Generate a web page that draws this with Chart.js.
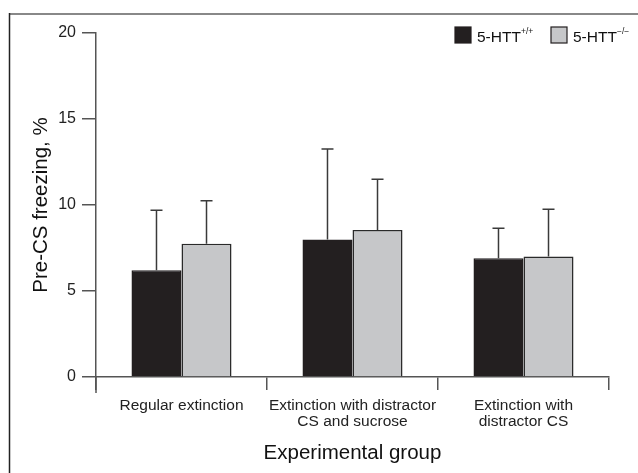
<!DOCTYPE html>
<html>
<head>
<meta charset="utf-8">
<script src="https://cdn.jsdelivr.net/npm/chart.js@4/dist/chart.umd.min.js"></script>
<style>
  html, body { margin: 0; padding: 0; background: #fff; }
  #wrap { width: 638px; height: 473px; position: relative; }
</style>
</head>
<body>
<div id="wrap"><canvas id="freezeChart"></canvas></div>
<script>
const groups = [["Regular extinction"], ["Extinction with distractor", "CS and sucrose"], ["Extinction with", "distractor CS"]];
const wildType = [6.2, 8.0, 6.9];
const wildTypeErr = [3.5, 5.25, 1.75];
const knockOut = [7.75, 8.55, 7.0];
const knockOutErr = [2.5, 2.95, 2.75];
const yTicks = [0, 5, 10, 15, 20];

const FONT = "'Liberation Sans', Arial, sans-serif";

// error bars drawn on top of the bars, upward only
const errorBars = {
    id: "errorBars",
    afterDatasetsDraw(chart) {
        const c = chart.ctx;
        const y = chart.scales.y;
        const errs = [wildTypeErr, knockOutErr];
        c.save();
        c.strokeStyle = "#3a3a3a";
        c.lineWidth = 1.5;
        chart.data.datasets.forEach((ds, i) => {
            chart.getDatasetMeta(i).data.forEach((bar, j) => {
                const top = y.getPixelForValue(ds.data[j] + errs[i][j]);
                c.beginPath();
                c.moveTo(bar.x, bar.y);
                c.lineTo(bar.x, top);
                c.moveTo(bar.x - 6, top);
                c.lineTo(bar.x + 6, top);
                c.stroke();
            });
        });
        c.restore();
    }
};

// frame, axis extension and legend with superscripts
const extras = {
    id: "extras",
    afterDraw(chart) {
        const c = chart.ctx;
        const area = chart.chartArea;
        c.save();
        c.strokeStyle = "#888";
        c.lineWidth = 2;
        c.beginPath();
        c.moveTo(9, 14); c.lineTo(638, 14);
        c.stroke();
        c.strokeStyle = "#222";
        c.lineWidth = 1.5;
        c.beginPath();
        c.moveTo(9.5, 13); c.lineTo(9.5, 473);
        c.stroke();

        c.strokeStyle = "#555";
        c.lineWidth = 1.5;
        c.beginPath();
        c.moveTo(area.left, area.bottom); c.lineTo(area.left, area.bottom + 16);
        c.stroke();

        const items = [
            { x: 455, fill: "#231f20", sup: "+/+" },
            { x: 551, fill: "#c6c7c9", sup: "\u2212/\u2212" }
        ];
        items.forEach(it => {
            c.fillStyle = it.fill;
            c.fillRect(it.x, 27, 16, 16);
            c.strokeStyle = "#231f20";
            c.lineWidth = 1.2;
            c.strokeRect(it.x, 27, 16, 16);
            c.fillStyle = "#111";
            c.font = "15.5px " + FONT;
            c.textBaseline = "alphabetic";
            c.textAlign = "left";
            c.fillText("5-HTT", it.x + 22, 42);
            const w = c.measureText("5-HTT").width;
            c.font = "8.5px " + FONT;
            c.fillText(it.sup, it.x + 22 + w, 34);
        });
        c.restore();
    }
};

const ctx = document.getElementById("freezeChart").getContext("2d");

new Chart(ctx, {
    type: "bar",
    data: {
        labels: groups,
        datasets: [{
            label: "5-HTT+/+",
            data: wildType,
            backgroundColor: "#231f20",
            borderColor: "#231f20",
            borderWidth: 1.5
        }, {
            label: "5-HTT-/-",
            data: knockOut,
            backgroundColor: "#c6c7c9",
            borderColor: "#2a2a2a",
            borderWidth: 1.5
        }]
    },
    options: {
        responsive: true,
        maintainAspectRatio: false,
        animation: false,
        devicePixelRatio: 1,
        layout: { padding: { left: 0, right: 29, top: 33, bottom: 0 } },
        datasets: { bar: { categoryPercentage: 0.585, barPercentage: 1 } },
        plugins: { legend: { display: false }, tooltip: { enabled: false } },
        scales: {
            x: {
                offset: true,
                afterFit(scale) { scale.height = 96; },
                grid: { offset: true, drawOnChartArea: false, tickLength: 13, color: "#555", lineWidth: 1.5 },
                border: { color: "#555", width: 1.5 },
                ticks: { color: "#222", font: { family: FONT, size: 15.5, lineHeight: 1.0 }, padding: 8, maxRotation: 0 },
                title: { display: true, text: "Experimental group", color: "#111", font: { family: FONT, size: 20.5 }, padding: { top: 8, bottom: 7 } }
            },
            y: {
                min: 0,
                max: 20,
                afterFit(scale) { scale.width = 96; },
                afterBuildTicks(scale) { scale.ticks = yTicks.map(v => ({ value: v })); },
                grid: { drawOnChartArea: false, tickLength: 14, color: "#555", lineWidth: 1.5 },
                border: { color: "#555", width: 1.5 },
                ticks: { color: "#222", font: { family: FONT, size: 16 }, padding: 6 },
                title: { display: true, text: "Pre-CS freezing, %", color: "#111", font: { family: FONT, size: 20.5 }, padding: { top: 29, bottom: 0 } }
            }
        }
    },
    plugins: [errorBars, extras]
});
</script>
</body>
</html>
